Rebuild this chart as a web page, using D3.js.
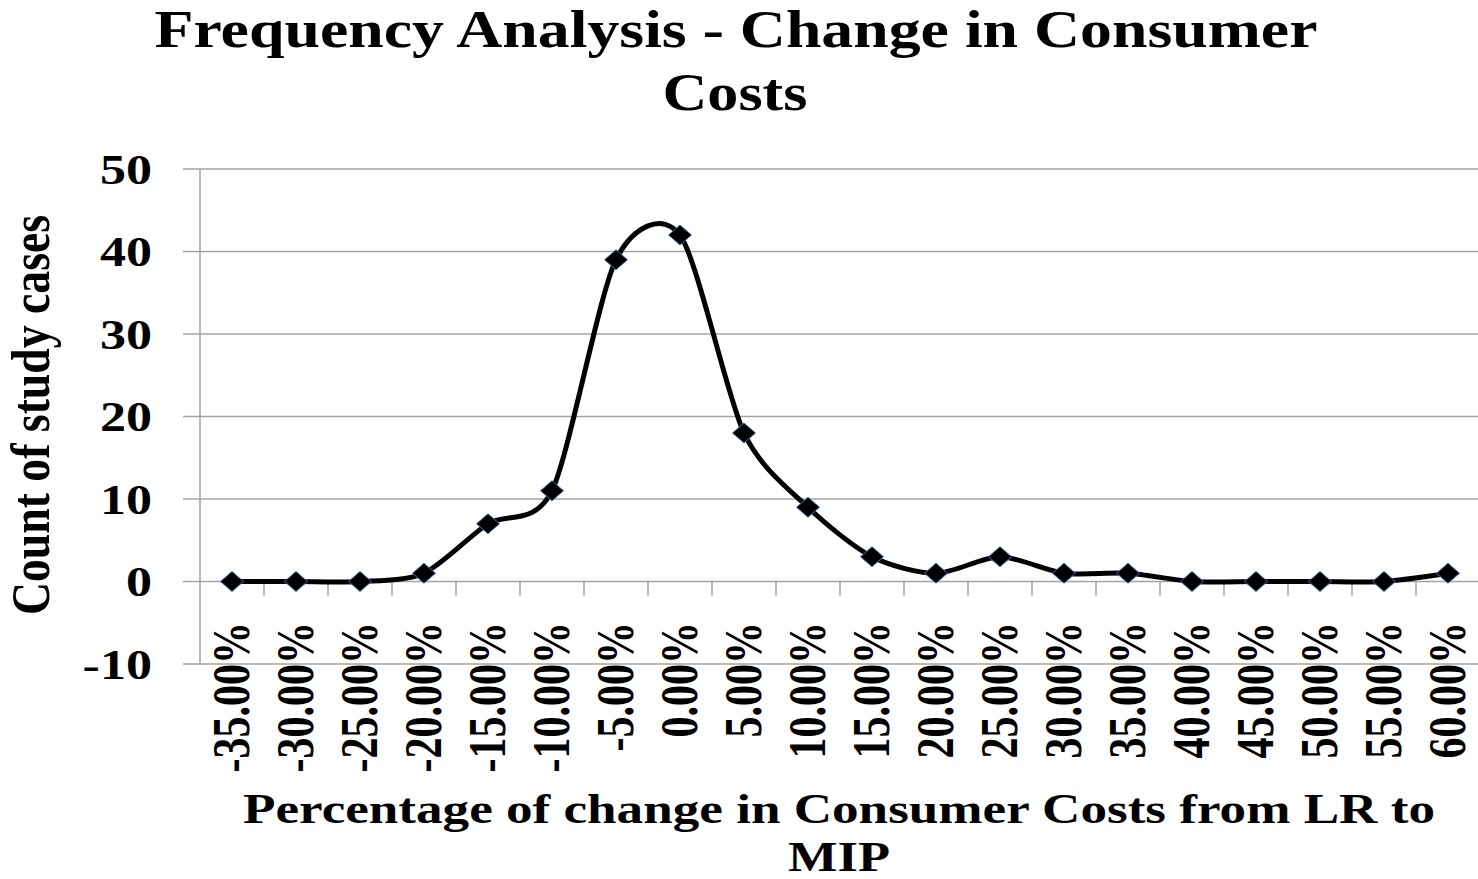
<!DOCTYPE html>
<html>
<head>
<meta charset="utf-8">
<script src="https://cdn.jsdelivr.net/npm/d3@7"></script>
<style>
  html, body { margin: 0; padding: 0; background: #fff; }
  svg { display: block; }
  text { font-family: "Liberation Serif", "Times New Roman", serif; font-weight: bold; fill: #000; }
</style>
</head>
<body>
<svg id="chart" width="1478" height="879"></svg>
<script>
// Percentage-change buckets (category axis)
const categories = ["-35.00%", "-30.00%", "-25.00%", "-20.00%", "-15.00%", "-10.00%", "-5.00%", "0.00%",
  "5.00%", "10.00%", "15.00%", "20.00%", "25.00%", "30.00%", "35.00%", "40.00%", "45.00%",
  "50.00%", "55.00%", "60.00%"];
// Count of study cases in each bucket
const counts = [0, 0, 0, 1, 7, 11, 39, 42, 18, 9, 3, 1, 3, 1, 1, 0, 0, 0, 0, 1];
// Value-axis ticks
const yTicks = [-10, 0, 10, 20, 30, 40, 50];

const titleLines = ["Frequency Analysis - Change in Consumer", "Costs"];
const xTitleLines = ["Percentage of change in Consumer Costs from LR to", "MIP"];
const yTitle = "Count of study cases";

const svg = d3.select("#chart");
const W = 1478, H = 879;
const plot = { left: 200, right: 1480, top: 169, bottom: 664 };
const sx = 1.24; // horizontal stretch applied to lettering

const x = d3.scaleBand().domain(categories).range([plot.left, plot.right]).padding(0);
const y = d3.scaleLinear().domain([-10, 50]).range([plot.bottom, plot.top]);

const gridColor = "#a3a3a3";

// Horizontal gridlines with outside tick marks on the value axis
svg.append("g")
  .selectAll("line")
  .data(yTicks)
  .join("line")
  .attr("x1", plot.left - 17)
  .attr("x2", W)
  .attr("y1", d => y(d))
  .attr("y2", d => y(d))
  .attr("stroke", gridColor)
  .attr("stroke-width", 1.5);

// Vertical value-axis line
svg.append("line")
  .attr("x1", plot.left).attr("x2", plot.left)
  .attr("y1", y(50)).attr("y2", y(-10))
  .attr("stroke", gridColor).attr("stroke-width", 1.5);

// Category-axis ticks hanging below the zero line, between categories
const boundaries = categories.slice(1).map(c => x(c));
svg.append("g")
  .selectAll("line")
  .data(boundaries)
  .join("line")
  .attr("x1", d => d).attr("x2", d => d)
  .attr("y1", y(0)).attr("y2", y(0) + 14)
  .attr("stroke", gridColor)
  .attr("stroke-width", 1.5);

// Value-axis labels
svg.append("g")
  .selectAll("text")
  .data(yTicks)
  .join("text")
  .attr("transform", d => `translate(152,${y(d)}) scale(${sx},1)`)
  .attr("text-anchor", "end")
  .attr("dy", "0.35em")
  .attr("font-size", 42)
  .text(d => d);

// Category labels, rotated, hanging from under the zero line
svg.append("g")
  .selectAll("text")
  .data(categories)
  .join("text")
  .attr("transform", d => `translate(${x(d) + x.bandwidth() / 2 - 1},622) scale(${sx},1) rotate(-90)`)
  .attr("text-anchor", "end")
  .attr("dy", "0.35em")
  .attr("font-size", 42)
  .text(d => d);

// Smoothed series line
const line = d3.line()
  .x((d, i) => x(categories[i]) + x.bandwidth() / 2)
  .y(d => y(d))
  .curve(d3.curveCardinal.tension(0.2));

svg.append("path")
  .datum(counts)
  .attr("d", line)
  .attr("fill", "none")
  .attr("stroke", "#000")
  .attr("stroke-width", 5)
  .attr("stroke-linejoin", "round");

// Diamond markers
const mw = 11.5, mh = 10;
svg.append("g")
  .selectAll("path")
  .data(counts)
  .join("path")
  .attr("transform", (d, i) => `translate(${x(categories[i]) + x.bandwidth() / 2},${y(d)})`)
  .attr("d", `M0,${-mh}L${mw},0L0,${mh}L${-mw},0Z`)
  .attr("fill", "#000")
  .attr("stroke", "#3f6ea6")
  .attr("stroke-width", 1);

// Chart title
svg.append("text")
  .attr("x", 736).attr("y", 47)
  .attr("text-anchor", "middle")
  .attr("font-size", 53)
  .attr("textLength", 1163)
  .attr("lengthAdjust", "spacingAndGlyphs")
  .text(titleLines[0]);
svg.append("text")
  .attr("x", 735).attr("y", 110)
  .attr("text-anchor", "middle")
  .attr("font-size", 53)
  .attr("textLength", 145)
  .attr("lengthAdjust", "spacingAndGlyphs")
  .text(titleLines[1]);

// Category-axis title
svg.append("text")
  .attr("x", 839).attr("y", 823)
  .attr("text-anchor", "middle")
  .attr("font-size", 42)
  .attr("textLength", 1192)
  .attr("lengthAdjust", "spacingAndGlyphs")
  .text(xTitleLines[0]);
svg.append("text")
  .attr("x", 839).attr("y", 871)
  .attr("text-anchor", "middle")
  .attr("font-size", 42)
  .attr("textLength", 102)
  .attr("lengthAdjust", "spacingAndGlyphs")
  .text(xTitleLines[1]);

// Value-axis title
svg.append("text")
  .attr("transform", `translate(30,415) scale(${sx},1) rotate(-90)`)
  .attr("text-anchor", "middle")
  .attr("dy", "0.35em")
  .attr("font-size", 44)
  .attr("textLength", 400)
  .attr("lengthAdjust", "spacingAndGlyphs")
  .text(yTitle);
</script>
</body>
</html>
